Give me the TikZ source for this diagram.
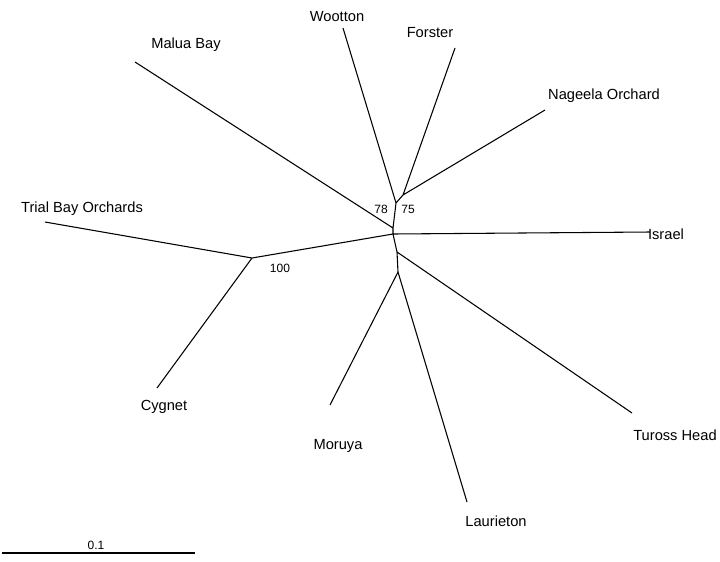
\documentclass[tikz,border=0pt]{standalone}
\usepackage{fontspec}
\setmainfont{Liberation Sans}
\tikzset{
    branch/.style = {draw=black, thick},
    taxon/.style =  {text=black, font=\fontsize{11}{13}\selectfont, inner sep=1pt},
    boot/.style =   {text=black, font=\fontsize{9}{11}\selectfont, inner sep=1pt}}
\begin{document}
\begin{tikzpicture}[x=0.75pt,y=-0.75pt]
        \useasboundingbox (0,0) rectangle (720,561);
        % internal nodes
        \coordinate (n75)  at (403,195);
        \coordinate (n78)  at (396,203);
        \coordinate (n1)   at (393,228);
        \coordinate (n2)   at (393,234);
        \coordinate (n3)   at (397,252);
        \coordinate (n4)   at (398,272);
        \coordinate (n100) at (252,258);
        % tips
        \coordinate (wo) at (343,28);
        \coordinate (fo) at (455,48);
        \coordinate (na) at (545,110);
        \coordinate (ma) at (135,62);
        \coordinate (tr) at (45,222);
        \coordinate (is) at (650,232);
        \coordinate (cy) at (157,388);
        \coordinate (mo) at (330,405);
        \coordinate (tu) at (632,413);
        \coordinate (la) at (467,502);
        \path [branch] (n75) -- (fo) (n75) -- (na) (n75) -- (n78) -- (wo)
                       (n78) -- (n1) -- (ma) (n1) -- (n2) -- (is)
                       (n2) -- (n100) -- (tr) (n100) -- (cy)
                       (n2) -- (n3) -- (tu) (n3) -- (n4) -- (mo) (n4) -- (la);
        \node[taxon] (lwo) at (337,17)  {Wootton};
        \node[taxon] (lfo) at (430,33)  {Forster};
        \node[taxon] (lna) at (604,96)  {Nageela Orchard};
        \node[taxon] (lma) at (186,45)  {Malua Bay};
        \node[taxon] (ltr) at (82,209)  {Trial Bay Orchards};
        \node[taxon] (lis) at (666,234) {Israel};
        \node[taxon] (lcy) at (164,407) {Cygnet};
        \node[taxon] (lmo) at (338,446) {Moruya};
        \node[taxon] (ltu) at (675,435) {Tuross Head};
        \node[taxon] (lla) at (496,521) {Laurieton};
        \node[boot]  (b78)  at (381,209) {78};
        \node[boot]  (b75)  at (408,209) {75};
        \node[boot]  (b100) at (280,268) {100};
        % scale bar
        \coordinate (s0) at (2,553);
        \coordinate (s1) at (195,553);
        \draw [branch] (s0) -- (s1);
        \node[boot] (sc) at (96,545) {0.1};
\end{tikzpicture}
\end{document}
